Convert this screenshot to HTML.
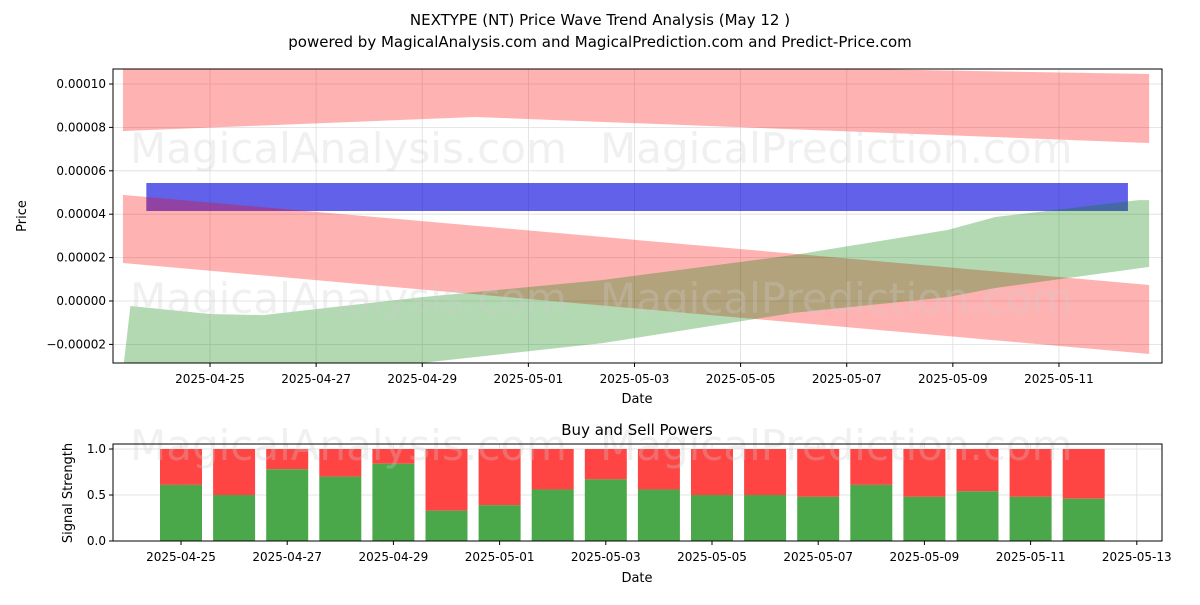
<!DOCTYPE html>
<html><head><meta charset="utf-8"><style>
body{margin:0;background:#fff;font-family:"Liberation Sans","DejaVu Sans",sans-serif}
svg text{font-family:"DejaVu Sans","Liberation Sans",sans-serif}
</style></head><body>
<svg id="chart" width="1200" height="600" xmlns="http://www.w3.org/2000/svg">
<text x="600" y="25" text-anchor="middle" font-size="15" fill="#000">NEXTYPE (NT) Price Wave Trend Analysis (May 12 )</text>
<text x="600" y="47" text-anchor="middle" font-size="15" fill="#000">powered by MagicalAnalysis.com and MagicalPrediction.com and Predict-Price.com</text>
<g id="topPanel"></g>
<g id="botPanel"></g>
</svg>
<script>
// day offsets from 2025-04-25
const topTickLabels=["2025-04-25","2025-04-27","2025-04-29","2025-05-01","2025-05-03","2025-05-05","2025-05-07","2025-05-09","2025-05-11"];
const yTicks=[0.0001,0.00008,0.00006,0.00004,0.00002,0,-0.00002];
const yTickLabels=["0.00010","0.00008","0.00006","0.00004","0.00002","0.00000","\u22120.00002"];
const redTopDays=[-1.64,5,17.7];
const redTopUpper=[0.000108,0.000110,0.0001046];
const redTopLower=[0.0000783,0.0000848,0.0000728];
const blueDays=[-1.2,17.3];
const blueUpper=[0.0000544,0.0000544];
const blueLower=[0.0000415,0.0000415];
const redDownDays=[-1.64,17.7];
const redDownUpper=[0.0000489,0.0000074];
const redDownLower=[0.0000175,-0.0000244];
const greenDays=[-1.5,0,1,4,7.4,11,13.9,14.8,17.5,17.7];
const greenUpper=[-0.0000023,-0.0000060,-0.0000065,0.0000018,0.0000097,0.0000212,0.0000327,0.0000387,0.0000465,0.0000465];
const greenLowerDays=[-1.64,4,7.4,11,13.9,14.8,17.7];
const greenLower=[-0.000032,-0.0000285,-0.0000194,-0.0000055,0.0000018,0.000006,0.0000157];
const barLabels=["2025-04-25","2025-04-27","2025-04-29","2025-05-01","2025-05-03","2025-05-05","2025-05-07","2025-05-09","2025-05-11","2025-05-13"];
const buyValues=[0.61,0.50,0.78,0.70,0.84,0.33,0.39,0.56,0.67,0.56,0.50,0.50,0.48,0.61,0.48,0.54,0.48,0.46];

const NS="http://www.w3.org/2000/svg";
function mk(p,tag,at){const e=document.createElementNS(NS,tag);for(const k in at)e.setAttribute(k,at[k]);p.appendChild(e);return e;}
const X=d=>210+d*53.06, Y=v=>301-v/0.00002*43.4;
const gTop=document.getElementById('topPanel');
const L=113,R=1162,T=69,B=363;
const clip=mk(gTop,'clipPath',{id:'c1'});mk(clip,'rect',{x:L,y:T,width:R-L,height:B-T});
yTicks.forEach((v,i)=>{const y=Y(v);
 const g=mk(gTop,'line',{x1:L,x2:R,y1:y,y2:y,stroke:'#ddd','stroke-width':0.8});
 
 mk(gTop,'line',{x1:L-4,x2:L,y1:y,y2:y,stroke:'#000'});
 const t=mk(gTop,'text',{x:L-7,y:y+4,'text-anchor':'end','font-size':12});t.textContent=yTickLabels[i];
 });
topTickLabels.forEach((s,i)=>{const x=X(i*2);
 mk(gTop,'line',{x1:x,x2:x,y1:T,y2:B,stroke:'#ddd','stroke-width':0.8});
 mk(gTop,'line',{x1:x,x2:x,y1:B,y2:B+4,stroke:'#000'});
 const t=mk(gTop,'text',{x:x,y:B+20,'text-anchor':'middle','font-size':12});t.textContent=s;
 });
function band(du,up,dl,lo,fill,op,name){
 const pts=du.map((d,i)=>X(d)+','+Y(up[i])).concat(dl.map((d,i)=>X(d)+','+Y(lo[i])).reverse());
 const p=mk(gTop,'polygon',{points:pts.join(' '),fill:fill,'fill-opacity':op,'clip-path':'url(#c1)'});
 }
band(redTopDays,redTopUpper,redTopDays,redTopLower,'#ff0000',0.3,'upper-red-band');
band(blueDays,blueUpper,blueDays,blueLower,'#0000dd',0.62,'blue-band');
band(redDownDays,redDownUpper,redDownDays,redDownLower,'#ff0000',0.3,'descending-red-band');
band(greenDays,greenUpper,greenLowerDays,greenLower,'#008000',0.3,'green-band');
[[130,150],[600,150],[130,300],[600,300]].forEach((p,i)=>{const t=mk(gTop,'text',{x:p[0],y:p[1]+13,'font-size':42,fill:'#ccc','fill-opacity':0.3});t.textContent=i%2?'MagicalPrediction.com':'MagicalAnalysis.com';
 });
mk(gTop,'rect',{x:L,y:T,width:R-L,height:B-T,fill:'none',stroke:'#000','stroke-width':1});
let tt=mk(gTop,'text',{x:637,y:403,'text-anchor':'middle','font-size':13});tt.textContent='Date';

tt=mk(gTop,'text',{x:26,y:216,'text-anchor':'middle','font-size':13,transform:'rotate(-90 26 216)'});tt.textContent='Price';


const gBot=document.getElementById('botPanel');
const bL=113,bR=1162,bT=444,bB=541;
const bX=d=>181+d*53.1, bY=v=>541-v*92;
[0,0.5,1].forEach(v=>{const y=bY(v);
 mk(gBot,'line',{x1:bL,x2:bR,y1:y,y2:y,stroke:'#ddd','stroke-width':0.8});
 mk(gBot,'line',{x1:bL-4,x2:bL,y1:y,y2:y,stroke:'#000'});
 const t=mk(gBot,'text',{x:bL-7,y:y+4,'text-anchor':'end','font-size':12});t.textContent=v.toFixed(1);
 });
barLabels.forEach((s,i)=>{const x=bX(i*2);
 mk(gBot,'line',{x1:x,x2:x,y1:bT,y2:bB,stroke:'#ddd','stroke-width':0.8});
 mk(gBot,'line',{x1:x,x2:x,y1:bB,y2:bB+4,stroke:'#000'});
 const t=mk(gBot,'text',{x:x,y:bB+20,'text-anchor':'middle','font-size':12});t.textContent=s;
 });
buyValues.forEach((v,i)=>{const x=bX(i)-21;
 const s=mk(gBot,'rect',{x:x,y:bY(1),width:42,height:bY(v)-bY(1),fill:'#ff4444'});
 
 const b=mk(gBot,'rect',{x:x,y:bY(v),width:42,height:bY(0)-bY(v),fill:'#4aa84a'});
 });
[[130,447],[600,447]].forEach((p,i)=>{const t=mk(gBot,'text',{x:p[0],y:p[1]+13,'font-size':42,fill:'#ccc','fill-opacity':0.3});t.textContent=i?'MagicalPrediction.com':'MagicalAnalysis.com';
 });
mk(gBot,'rect',{x:bL,y:bT,width:bR-bL,height:bB-bT,fill:'none',stroke:'#000','stroke-width':1});
tt=mk(gBot,'text',{x:637,y:435,'text-anchor':'middle','font-size':15});tt.textContent='Buy and Sell Powers';

tt=mk(gBot,'text',{x:637,y:582,'text-anchor':'middle','font-size':13});tt.textContent='Date';

tt=mk(gBot,'text',{x:72,y:493,'text-anchor':'middle','font-size':13,transform:'rotate(-90 72 493)'});tt.textContent='Signal Strength';

</script>
</body></html>
